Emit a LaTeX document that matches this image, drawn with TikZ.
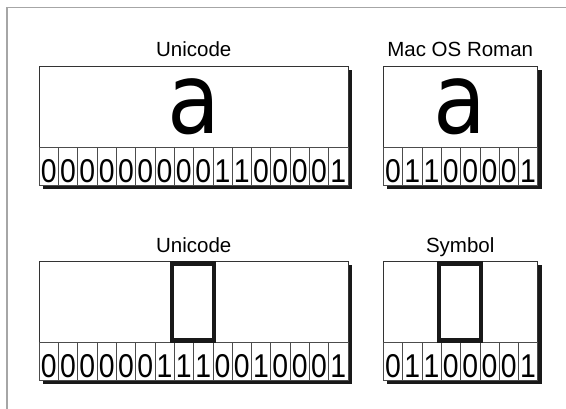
\documentclass[tikz,border=0pt]{standalone}
\usepackage{graphicx}
\usepackage{fontspec}
\setmainfont{Liberation Sans}
\newfontfamily\glyphfont{DejaVu Sans}
\tikzset{
  frameline/.style={draw=black!35, line width=1.5pt},
  panel/.style={draw=black!80, line width=0.8pt, fill=white, inner sep=0pt, anchor=north west, minimum height=119pt},
  shadowbox/.style={fill=black!90, draw=none, inner sep=0pt, anchor=north west, minimum height=119pt},
  cellbox/.style={draw=black!70, line width=0.6pt, inner sep=0pt, minimum width=19.3pt, minimum height=38pt, anchor=north west},
  digit/.style={font=\fontsize{33}{33}\selectfont, inner sep=0pt, anchor=base},
  label/.style={font=\fontsize{20.5}{21}\selectfont, inner sep=0pt, anchor=base},
  biga/.style={font=\glyphfont\fontsize{98}{98}\selectfont, inner sep=0pt, anchor=base},
  missing/.style={draw=black!90, line width=4.5pt, inner sep=0pt, minimum width=42pt, minimum height=77pt}
}
\newcommand\mybitrow[4]{% prefix, x0, ytop, digits
  \foreach \d [count=\i from 0] in {#4} {
    \node[cellbox] (#1\i) at ({#2+\i*19.3}, #3) {};
    \node[digit] (#1d\i) at ([yshift=3pt]#1\i.south) {\scalebox{0.86}[1]{\d}};
  }}
\begin{document}
\begin{tikzpicture}[x=1pt,y=-1pt]
\useasboundingbox (0,0) rectangle (566,409);
\draw[frameline] (7,409) -- (7,7.5) -- (566,7.5);

% shadows
\node[shadowbox, minimum width=308.8pt] (s1) at (42.8,70) {};
\node[shadowbox, minimum width=154.4pt] (s2) at (387,70) {};
\node[shadowbox, minimum width=308.8pt] (s3) at (42.8,265) {};
\node[shadowbox, minimum width=154.4pt] (s4) at (387,265) {};

% panels
\node[panel, minimum width=308.8pt] (p1) at (38.8,66) {};
\node[panel, minimum width=154.4pt] (p2) at (383,66) {};
\node[panel, minimum width=308.8pt] (p3) at (38.8,261) {};
\node[panel, minimum width=154.4pt] (p4) at (383,261) {};

% labels
\node[label] (l1) at (193.8,56.5) {Unicode};
\node[label] (l2) at (460.2,56.5) {Mac OS Roman};
\node[label] (l3) at (193.8,252.5) {Unicode};
\node[label] (l4) at (460.2,252.5) {Symbol};

% glyphs
\node[biga] (a1) at (194,133.5) {\scalebox{0.88}[1]{a}};
\node[biga] (a2) at (460.2,133.5) {\scalebox{0.88}[1]{a}};

% bit rows
\mybitrow{ua}{38.8}{147}{0,0,0,0,0,0,0,0,0,1,1,0,0,0,0,1}
\mybitrow{ma}{383}{147}{0,1,1,0,0,0,0,1}
\mybitrow{ub}{38.8}{342}{0,0,0,0,0,0,1,1,1,0,0,1,0,0,0,1}
\mybitrow{sb}{383}{342}{0,1,1,0,0,0,0,1}

% missing glyph boxes
\node[missing] (g1) at (193,302) {};
\node[missing] (g2) at (460.2,302) {};
\end{tikzpicture}
\end{document}
